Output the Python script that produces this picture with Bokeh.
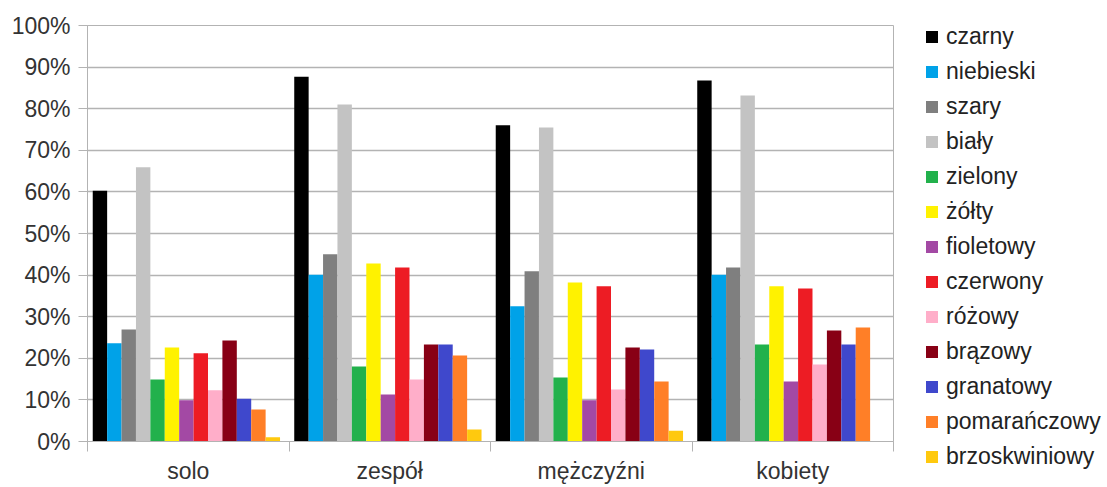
from bokeh.plotting import figure
from bokeh.models import Range1d, FixedTicker, Legend, LegendItem, ColumnDataSource
from bokeh.embed import file_html
from bokeh.resources import INLINE

categories = ["solo", "zespół", "mężczyźni", "kobiety"]
series = ["czarny", "niebieski", "szary", "biały", "zielony", "żółty", "fioletowy",
          "czerwony", "różowy", "brązowy", "granatowy", "pomarańczowy", "brzoskwiniowy"]
colors = ["#000000", "#00a2e8", "#7f7f7f", "#c3c3c3", "#22b14c", "#fff200", "#a349a4",
          "#ed1c24", "#ffaec9", "#880015", "#3f48cc", "#ff7f27", "#ffc90e"]

solo = [60.3, 23.6, 26.9, 65.9, 14.9, 22.6, 9.9, 21.2, 12.3, 24.3, 10.3, 7.7, 1.0]
zespol = [87.7, 40.1, 45.0, 81.0, 18.0, 42.8, 11.3, 41.8, 14.9, 23.3, 23.3, 20.7, 2.9]
mezczyzni = [76.0, 32.5, 40.9, 75.5, 15.4, 38.2, 9.9, 37.3, 12.5, 22.6, 22.1, 14.4, 2.6]
kobiety = [86.8, 40.1, 41.8, 83.2, 23.3, 37.3, 14.4, 36.8, 18.5, 26.7, 23.3, 27.4, 0.0]

y_ticks = [0, 10, 20, 30, 40, 50, 60, 70, 80, 90, 100]
y_tick_labels = ["0%", "10%", "20%", "30%", "40%", "50%", "60%", "70%", "80%", "90%", "100%"]

groups = [solo, zespol, mezczyzni, kobiety]

FONT = "Liberation Sans"
GRID = "#b3b3b3"
FS = "23px"

p = figure(frame_width=806, frame_height=416, output_backend="svg", toolbar_location=None,
           x_range=Range1d(0, len(categories)), y_range=Range1d(0, 100),
           min_border_left=87, min_border_right=214, min_border_top=25, min_border_bottom=46,
           background_fill_color="white", border_fill_color="white")
p.outline_line_color = GRID

bw = 0.0715
start = 0.026
items = []
for i, name in enumerate(series):
    xs = [g + start + bw * (i + 0.5) for g in range(len(categories))]
    tops = [grp[i] for grp in groups]
    src = ColumnDataSource(dict(x=xs, top=tops))
    r = p.vbar(x="x", top="top", width=bw, bottom=0, source=src,
               fill_color=colors[i], line_color=None)
    items.append(LegendItem(label=name, renderers=[r]))

# y axis
p.yaxis.ticker = FixedTicker(ticks=y_ticks)
p.yaxis.major_label_overrides = {t: l for t, l in zip(y_ticks, y_tick_labels)}
p.yaxis.axis_line_color = GRID
p.yaxis.major_tick_line_color = GRID
p.yaxis.major_tick_out = 9
p.yaxis.major_tick_in = 0
p.yaxis.minor_tick_line_color = None
p.yaxis.major_label_text_font = FONT
p.yaxis.major_label_text_font_size = FS
p.yaxis.major_label_text_color = "#333333"
p.yaxis.major_label_standoff = 8

# x axis: labels at group centres, tick marks at group boundaries
centers = [g + 0.5 for g in range(len(categories))]
bounds = list(range(len(categories) + 1))
p.xaxis.ticker = FixedTicker(ticks=centers, minor_ticks=bounds)
p.xaxis.major_label_overrides = {c: l for c, l in zip(centers, categories)}
p.xaxis.axis_line_color = GRID
p.xaxis.major_tick_line_color = None
p.xaxis.major_tick_out = 0
p.xaxis.major_tick_in = 0
p.xaxis.minor_tick_line_color = GRID
p.xaxis.minor_tick_out = 10
p.xaxis.minor_tick_in = 0
p.xaxis.major_label_text_font = FONT
p.xaxis.major_label_text_font_size = FS
p.xaxis.major_label_text_color = "#333333"
p.xaxis.major_label_standoff = 6

p.xgrid.grid_line_color = None
p.ygrid.grid_line_color = GRID
p.ygrid.grid_line_width = 1.3

legend = Legend(items=items, location=(31, -29), orientation="vertical",
                padding=0, margin=0, spacing=8, label_height=26,
                glyph_width=15, glyph_height=15, label_standoff=7,
                label_text_font=FONT, label_text_font_size=FS,
                label_text_color="#222222",
                border_line_color=None, background_fill_alpha=0)
p.add_layout(legend, "right")

open("out.html", "w").write(file_html(p, INLINE))
